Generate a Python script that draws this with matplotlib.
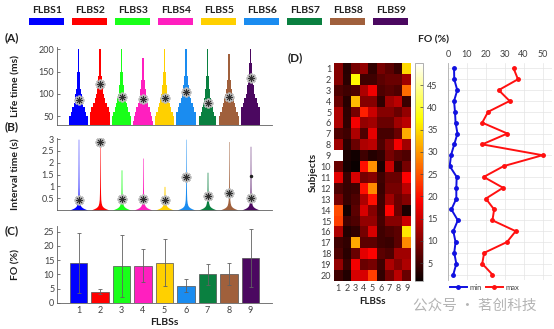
import matplotlib.pyplot as plt
import numpy as np

plt.rcParams['font.family'] = ['Lato', 'DejaVu Sans']
plt.rcParams['axes.linewidth'] = 0.6

# ---- data ----
flbs = ['FLBS1', 'FLBS2', 'FLBS3', 'FLBS4', 'FLBS5', 'FLBS6', 'FLBS7', 'FLBS8', 'FLBS9']
colors = ['#0000ff', '#ff0000', '#19ff19', '#ff1fbf', '#ffd000',
          '#1a8cf0', '#0a8040', '#a0603c', '#4b0860']

# (A) life time violins: shared half-width profile and a tail factor per state
life_levels = [30, 40, 50, 60, 70, 80, 90, 100, 110, 120, 130, 140, 150, 160, 170, 180, 190, 200]
life_hw = [0.45, 0.42, 0.36, 0.29, 0.23, 0.18, 0.145, 0.115, 0.09, 0.072, 0.058,
           0.047, 0.038, 0.031, 0.026, 0.022, 0.018, 0.015]
life_tail = [1.0, 1.4, 1.05, 1.05, 1.05, 1.35, 0.9, 1.2, 1.6]
life_mark = [85, 123, 93, 88, 90, 105, 80, 93, 135]

# (B) interval time violins
int_levels = [0, 0.03, 0.06, 0.1, 0.15, 0.2, 0.3, 0.45, 0.7, 1.0, 1.5, 2.0, 2.5, 3.0]
int_hw = [0.42, 0.34, 0.26, 0.18, 0.12, 0.085, 0.055, 0.035, 0.025, 0.02,
          0.016, 0.013, 0.011, 0.009]
int_top = [3.0, 3.0, 1.7, 2.2, 1.0, 3.0, 1.6, 2.9, 2.7]
int_mark = [0.42, 2.88, 0.48, 0.47, 0.42, 1.4, 0.6, 0.72, 0.52]

# (C) fractional occupancy
fo_mean = [14, 4, 13, 13, 14.2, 6, 10, 10.2, 15.8]
fo_err = [10.5, 0.8, 10.8, 5.8, 8.1, 2.3, 3.8, 3.8, 10.2]

# (D) FO per subject x state
fo_matrix = np.array([
    [10, 3.2, 9, 11, 4, 9, 7, 4.5, 34.7],
    [10, 3.3, 37, 5, 5, 7, 8, 8, 12],
    [6, 4.9, 6, 13, 18, 6, 7, 6, 26.8],
    [8, 3.2, 32.6, 10, 10, 4, 12, 14, 4.5],
    [13, 3.7, 9, 21.2, 15, 10, 10, 8, 11],
    [13, 4.0, 18.1, 11, 12, 8, 8, 12, 14],
    [6, 5.0, 13, 6, 17, 5.5, 5.5, 8, 31.4],
    [12, 3.3, 8, 13, 14, 6, 10, 18.1, 12],
    [50, 2.5, 1.6, 5, 3, 4, 9, 7, 6],
    [8, 2, 0.9, 20, 29.5, 2.2, 15, 4, 9],
    [17, 4.6, 16, 9, 10, 5, 8, 8, 18.9],
    [6, 4.4, 5, 20, 29.1, 4.6, 9, 9, 14],
    [9, 4.4, 6, 13, 20, 5, 12, 8, 10],
    [24.4, 1.8, 7, 16, 10, 5, 19, 8, 2.5],
    [23.5, 5.2, 6, 11, 11, 5.5, 10, 10, 15],
    [13, 2.8, 4, 9, 16, 5, 6, 7, 35.8],
    [5, 4.0, 31.2, 7, 7, 5, 4.5, 7, 29],
    [6, 3.3, 8, 17, 19.1, 7, 6, 12, 12],
    [11, 4.4, 18.1, 8, 9, 5, 13, 10, 13],
    [5, 2.8, 16, 16, 23.5, 4, 9, 14, 8],
])
subjects = list(range(1, 21))
fo_min = [3.2, 3.3, 4.9, 3.2, 3.7, 4.0, 5.0, 3.3, 1.6, 0.9,
          4.6, 4.4, 4.4, 1.8, 5.2, 2.8, 4.0, 3.3, 4.4, 2.8]
fo_max = [34.7, 37, 26.8, 32.6, 21.2, 18.1, 31.4, 18.1, 50, 29.5,
          18.9, 29.1, 20, 24.4, 23.5, 35.8, 31.2, 19.1, 18.1, 23.5]

W, H = 554, 329
fig = plt.figure(figsize=(W / 100, H / 100), dpi=100)
tc = '#404040'
fs = 6.5


def box(l, t, r, b):
    return fig.add_axes([l / W, 1 - b / H, (r - l) / W, (b - t) / H])


def mark(ax, x, y):
    # grey halo + dark asterisk, like the reference
    ax.plot(x, y, ls='none', marker=(8, 2, 0), ms=7, mec='#b8b8b8', mew=1.8, zorder=4)
    ax.plot(x, y, ls='none', marker=(8, 2, 0), ms=5, mec='#303030', mew=0.6, zorder=5)


def style(ax):
    for s in ['top', 'right']:
        ax.spines[s].set_visible(False)
    for s in ['left', 'bottom']:
        ax.spines[s].set_color('#606060')
    ax.tick_params(labelsize=fs, colors=tc, length=2, width=0.5, direction='in', pad=2)


pos = np.arange(1, 10)

# ---- top legend ----
lg = box(20, 2, 420, 26)
lg.bar(pos, 1, width=0.82, bottom=0, color=colors)
for p, name in zip(pos, flbs):
    lg.text(p, 1.5, name, ha='center', va='bottom', fontsize=7.5, fontweight='bold', color='#202020')
lg.set_xlim(0.38, 9.68)
lg.set_ylim(-0.1, 3.4)
lg.axis('off')

# ---- (A) ----
axA = box(57, 47, 272, 125)
lv = np.array(life_levels)
for p, c, t, m in zip(pos, colors, life_tail, life_mark):
    hw = np.minimum(0.45, np.array(life_hw) * t)
    axA.fill_betweenx(lv, p - hw, p + hw, step='post', color=c, lw=0)
    mark(axA, p, m)
axA.set_xlim(0, 10)
axA.set_ylim(30, 205)
axA.set_yticks([50, 100, 150, 200])
axA.set_xticks([])
style(axA)
axA.set_ylabel('Life time (ms)', fontsize=7.5, fontweight='bold', color='#202020')
axA.yaxis.set_label_coords(-0.17, 0.5)

# ---- (B) ----
axB = box(57, 138, 272, 210)
iv = np.array(int_levels)
for p, c, top, m in zip(pos, colors, int_top, int_mark):
    keep = iv <= top
    y = np.append(iv[keep], top)
    hw = np.append(np.array(int_hw)[keep], int_hw[keep.sum() - 1])
    axB.fill_betweenx(y, p - hw, p + hw, color=c, lw=0)
    mark(axB, p, m)
axB.plot(9, 1.45, ls='none', marker='.', ms=3, color='#202020')
axB.set_xlim(0, 10)
axB.set_ylim(0, 3.05)
axB.set_yticks([0.5, 1, 1.5, 2, 2.5, 3])
axB.set_yticklabels(['0.5', '1', '1.5', '2', '2.5', '3'])
axB.set_xticks([])
style(axB)
axB.set_ylabel('Interval time (s)', fontsize=7.5, fontweight='bold', color='#202020')
axB.yaxis.set_label_coords(-0.17, 0.5)

# ---- (C) ----
axC = box(57, 226, 272, 303)
axC.bar(pos, fo_mean, width=0.8, color=colors, edgecolor='#505050', lw=0.5,
        yerr=fo_err, error_kw=dict(ecolor='#606060', elinewidth=0.6, capsize=1.5, capthick=0.6))
axC.set_xlim(0, 10)
axC.set_ylim(0, 27)
axC.set_xticks(pos)
axC.set_yticks([0, 5, 10, 15, 20, 25])
style(axC)
axC.tick_params(axis='x', length=0)
axC.set_ylabel('FO (%)', fontsize=7.5, fontweight='bold', color='#202020')
axC.yaxis.set_label_coords(-0.17, 0.5)
axC.set_xlabel('FLBSs', fontsize=7.5, fontweight='bold', color='#202020', labelpad=2)

for lab, x, y in [('(A)', 5, 38), ('(B)', 5, 127), ('(C)', 5, 231), ('(D)', 288, 58)]:
    fig.text(x / W, 1 - y / H, lab, fontsize=8.5, fontweight='bold', va='center', color='#202020')

# ---- (D) heatmap ----
axD = box(334, 63, 411, 281)
im = axD.imshow(fo_matrix, cmap='hot', vmin=1, vmax=50, aspect='auto',
                extent=(0.5, 9.5, 20.5, 0.5), interpolation='nearest')
axD.set_xticks(pos)
axD.set_yticks(subjects)
axD.tick_params(labelsize=fs, colors=tc, length=0, pad=2)
for s in axD.spines.values():
    s.set_visible(False)
axD.set_xlabel('FLBSs', fontsize=7, fontweight='bold', color='#202020', labelpad=3)
axD.set_ylabel('Subjects', fontsize=7.5, fontweight='bold', color='#202020', labelpad=2)

cax = box(415, 63, 423, 281)
cb = fig.colorbar(im, cax=cax, ticks=[5, 10, 15, 20, 25, 30, 35, 40, 45])
cb.outline.set_edgecolor('#909090')
cb.outline.set_linewidth(0.5)
cax.tick_params(labelsize=fs, colors=tc, length=2, width=0.5, direction='in', pad=3)

# ---- (E) min / max ----
axE = box(448, 63, 552, 280)
axE.plot(fo_min, subjects, '-o', color='#1010e0', lw=1.4, ms=2.5, label='min')
axE.plot(fo_max, subjects, '-o', color='#ff1010', lw=1.4, ms=2.5, label='max')
axE.set_ylim(20.5, 0.5)
axE.set_xlim(0, 55)
axE.set_xticks([0, 10, 20, 30, 40, 50])
axE.set_yticks(subjects)
axE.set_yticklabels([])
axE.xaxis.tick_top()
axE.grid(True, color='#e4e4e4', lw=0.5)
axE.tick_params(labelsize=fs, colors=tc, length=0, pad=3)
for s in axE.spines.values():
    s.set_visible(False)
axE.spines['left'].set_visible(True)
axE.spines['left'].set_color('#b0b0b0')
axE.legend(loc='upper center', bbox_to_anchor=(0.35, -0.005), ncol=2, frameon=False,
           fontsize=5.5, handlelength=2.2, columnspacing=0.6, handletextpad=0.3,
           borderaxespad=0, labelcolor=tc)
fig.text(434 / W, 1 - 40 / H, 'FO (%)', fontsize=7.5, fontweight='bold', ha='center',
         va='center', color='#202020')

fig.text(475 / W, 1 - 306 / H, '公众号 · 茗创科技', fontsize=10.5, color='#b4b4b4',
         ha='center', va='center', family=['Noto Sans CJK SC', 'DejaVu Sans'])

fig.savefig('out.png', dpi=100)
